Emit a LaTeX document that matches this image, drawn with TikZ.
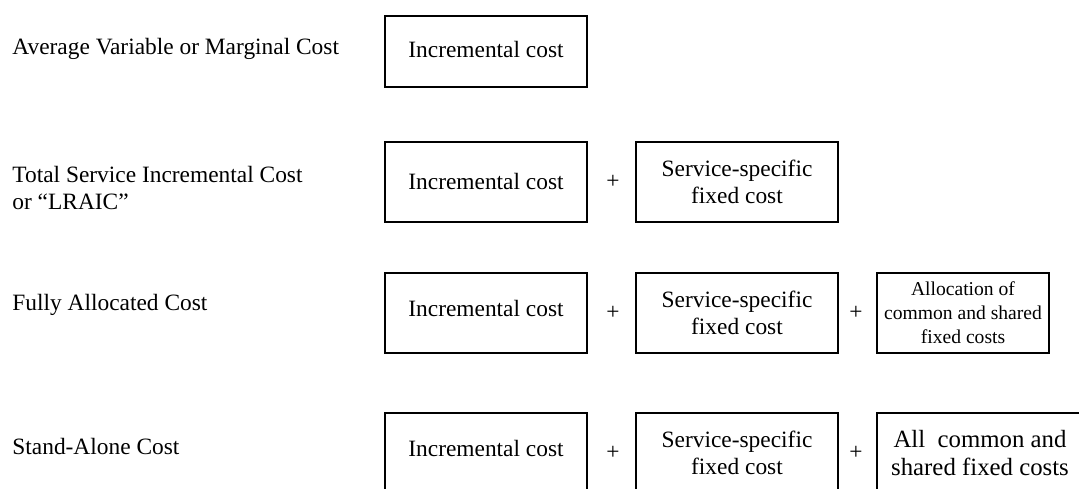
\documentclass[tikz,border=0pt]{standalone}
\usepackage{fontspec}
\setmainfont{Liberation Serif}

\begin{document}
\begin{tikzpicture}[x=0.5pt, y=-0.5pt,
        rowname/.style={anchor=west, inner sep=0pt, align=left, font=\mainsize},
        cell/.style={draw, line width=0.7pt, inner sep=0pt, minimum width=101pt, minimum height=40pt, align=center, font=\mainsize},
        plussign/.style={inner sep=0pt, font=\mainsize}]
    \newcommand{\mainsize}{\fontsize{11.7pt}{13.75pt}\selectfont}
    \newcommand{\allocsize}{\fontsize{9.8pt}{12pt}\selectfont}
    \newcommand{\allsize}{\fontsize{12.4pt}{13.75pt}\selectfont}
    \useasboundingbox (0, 0) rectangle (1079, 488);
    \clip (0, 0) rectangle (1079, 488);
    % Row labels
    \node[rowname] (Label-1) at (12, 49) {Average Variable or Marginal Cost};
    \node[rowname] (Label-2) at (12, 188) {Total Service Incremental Cost\\or “LRAIC”};
    \node[rowname] (Label-3) at (12, 305) {Fully Allocated Cost};
    \node[rowname] (Label-4) at (12, 446) {Stand-Alone Cost};
    % Incremental cost
    \node[cell, minimum height=35.5pt] (Inc-1) at (486, 51.5) {\raisebox{2.25pt}{Incremental cost}};
    \foreach \i/\y/\dy in {2/182/1pt, 3/313/4.5pt, 4/453/4.5pt} {
            \node[cell] (Inc-\i) at (486, \y) {\raisebox{\dy}{Incremental cost}};
        }
    % Service-specific fixed cost
    \foreach \i/\y in {2/182, 3/313, 4/453} {
            \node[plussign] (Plus-\i-a) at (613, \y) {+};
            \node[cell] (Fixed-\i) at (737, \y) {Service-specific\\fixed cost};
        }
    % Common and shared costs
    \foreach \i/\y in {3/313, 4/453} {
            \node[plussign] (Plus-\i-b) at (856, \y) {+};
        }
    \node[cell, minimum width=86pt, font=\allocsize] (Common-3) at (963, 313) {Allocation of\\common and shared\\fixed costs};
    \node[cell, minimum width=103pt, font=\allsize] (Common-4) at (980, 453) {All\ \ common and\\shared fixed costs};
\end{tikzpicture}
\end{document}
